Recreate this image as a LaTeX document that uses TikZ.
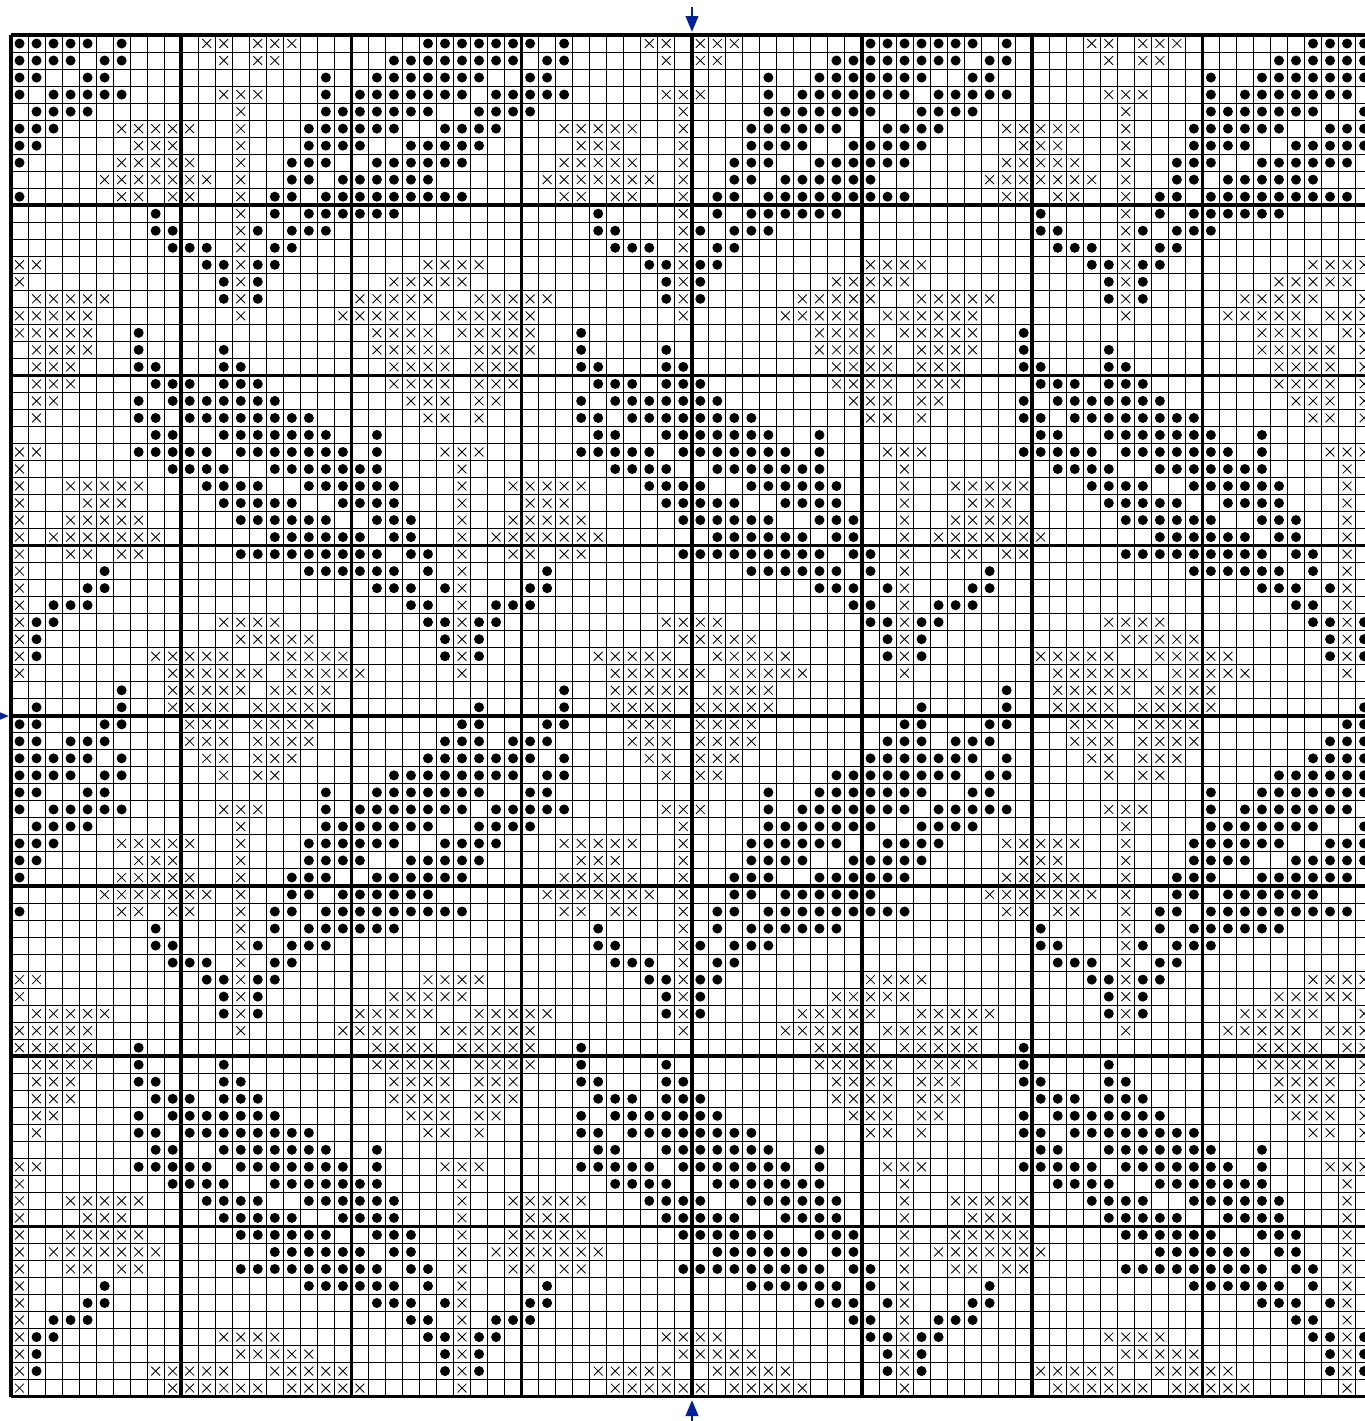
\documentclass[tikz,border=0pt]{standalone}
\usetikzlibrary{arrows.meta}
\definecolor{markblue}{RGB}{0,32,160}
\tikzset{
  gridthin/.style={line width=0.5pt, black},
  gridthick/.style={line width=1.75pt, black},
  stitchdot/.style={fill=black},
  stitchx/.style={line width=0.42pt, black},
  centremark/.style={-{Triangle[length=8pt,width=6.2pt]}, line width=1.3pt, markblue},
}
\newcommand{\cellsize}{17.02}
\newcommand{\gridx}{11}
\newcommand{\gridy}{35}
% one repeat of the chart, 26 columns by 42 rows: row/columns
\newcommand{\dotrows}{
  0/{0,1,2,3,4,6,24,25},
  1/{0,1,2,3,5,6,22,23,24,25},
  2/{0,1,4,5,18,21,22,23,24,25},
  3/{0,2,3,4,5,6,18,20,21,22,23,24,25},
  4/{1,2,3,4,18,19,20,21,22,23,24},
  5/{0,1,2,17,18,19,20,21,22,25},
  6/{0,1,17,18,19,20,23,24,25},
  7/{0,16,17,18,21,22,23,24,25},
  8/{16,17,19,20,21,22,23,24},
  9/{0,15,16,18,19,20,21,22,23,24,25},
  10/{8,15,17,18,19,20,21,22},
  11/{8,9,14,16,17,18},
  12/{9,10,11,15,16},
  13/{11,12,14,15},
  14/{12,14},
  15/{12,14},
  17/{7},
  18/{7,12},
  19/{7,8,12,13},
  20/{8,9,10,12,13,14},
  21/{7,9,10,11,12,13,14,15},
  22/{7,8,10,11,12,13,14,15,16,17},
  23/{8,9,12,13,14,15,16,17,18,21},
  24/{7,8,9,10,11,13,14,15,16,17,18,19,21},
  25/{9,10,11,12,15,16,17,18,19,20,21},
  26/{11,12,13,14,17,18,19,20,21,22},
  27/{12,13,14,15,16,19,20,21,22},
  28/{13,14,15,16,17,18,21,22,23},
  29/{15,16,17,18,19,20,22,23},
  30/{13,14,15,16,17,18,19,20,21,23,24},
  31/{5,17,18,19,20,21,22,24},
  32/{4,5,21,22,23,25},
  33/{2,3,4,23,24},
  34/{1,2,24,25},
  35/{1,25},
  36/{1,25},
  38/{6},
  39/{1,6},
  40/{0,1,5,6},
  41/{0,1,3,4,5,25}}
\newcommand{\crossrows}{
  0/{11,12,14,15,16},
  1/{12,14,15},
  3/{12,13,14},
  4/{13},
  5/{6,7,8,9,10,13},
  6/{7,8,9,13},
  7/{6,7,8,9,10,13},
  8/{5,6,7,8,9,10,11,13},
  9/{6,7,9,10,13},
  10/{13},
  11/{13},
  12/{13},
  13/{0,1,13,24,25},
  14/{0,13,22,23,24,25},
  15/{1,2,3,4,5,13,20,21,22,23,24},
  16/{0,1,2,3,4,13,19,20,21,22,23,25},
  17/{0,1,2,3,4,21,22,23,24},
  18/{1,2,3,4,21,22,23,24,25},
  19/{1,2,3,22,23,24,25},
  20/{1,2,3,22,23,24,25},
  21/{1,2,23,24,25},
  22/{1,24,25},
  24/{0,1,25},
  25/{0},
  26/{0,3,4,5,6,7},
  27/{0,4,5,6},
  28/{0,3,4,5,6,7},
  29/{0,2,3,4,5,6,7,8},
  30/{0,3,4,6,7},
  31/{0},
  32/{0},
  33/{0},
  34/{0,12,13,14,15},
  35/{0,13,14,15,16,17},
  36/{0,8,9,10,11,12,15,16,17,18,19},
  37/{0,9,10,11,12,13,14,16,17,18,19,20},
  38/{9,10,11,12,13,15,16,17,18},
  39/{9,10,11,12,14,15,16,17,18},
  40/{10,11,12,14,15,16,17},
  41/{10,11,12,14,15,16,17}}

\begin{document}
\begin{tikzpicture}[x=0.5pt, y=-0.5pt]
  \useasboundingbox (0,0) rectangle (1365,1421);

  \coordinate (topstart) at (692,7);
  \coordinate (toptip) at (692,32);
  \coordinate (bottomstart) at (692,1425);
  \coordinate (bottomtip) at (692,1400);
  \coordinate (leftstart) at (-16,716);
  \coordinate (lefttip) at (9,716);

  \begin{scope}
    \clip (0,33) rectangle (1365,1399);
    \foreach \i in {0,...,80} {
      \draw[gridthin] ({\gridx+\cellsize*\i},\gridy) -- ({\gridx+\cellsize*\i},{\gridy+\cellsize*80});
      \draw[gridthin] (\gridx,{\gridy+\cellsize*\i}) -- ({\gridx+\cellsize*80},{\gridy+\cellsize*\i});
    }
    \foreach \i in {0,10,...,80} {
      \draw[gridthick] ({\gridx+\cellsize*\i},\gridy) -- ({\gridx+\cellsize*\i},{\gridy+\cellsize*80});
      \draw[gridthick] (\gridx,{\gridy+\cellsize*\i}) -- ({\gridx+\cellsize*80},{\gridy+\cellsize*\i});
    }
    % the repeat is laid out twice down and four times across
    \foreach \ty in {0,42} {
      \foreach \tx in {0,26,52,78} {
        \begin{scope}[shift={({\gridx+\cellsize*(\tx+.5)},{\gridy+\cellsize*(\ty+.5)})}]
          \foreach \r/\cols in \dotrows {
            \foreach \c in \cols {
              \fill[stitchdot] ({\cellsize*\c},{\cellsize*\r}) circle[radius=5];
            }
          }
          \foreach \r/\cols in \crossrows {
            \foreach \c in \cols {
              \draw[stitchx] ({\cellsize*\c-4.4},{\cellsize*\r-4.4}) -- +(8.8,8.8)
                             ({\cellsize*\c-4.4},{\cellsize*\r+4.4}) -- +(8.8,-8.8);
            }
          }
        \end{scope}
      }
    }
  \end{scope}

  \draw[centremark] (topstart) -- (toptip);
  \draw[centremark] (bottomstart) -- (bottomtip);
  \draw[centremark] (leftstart) -- (lefttip);
\end{tikzpicture}
\end{document}
